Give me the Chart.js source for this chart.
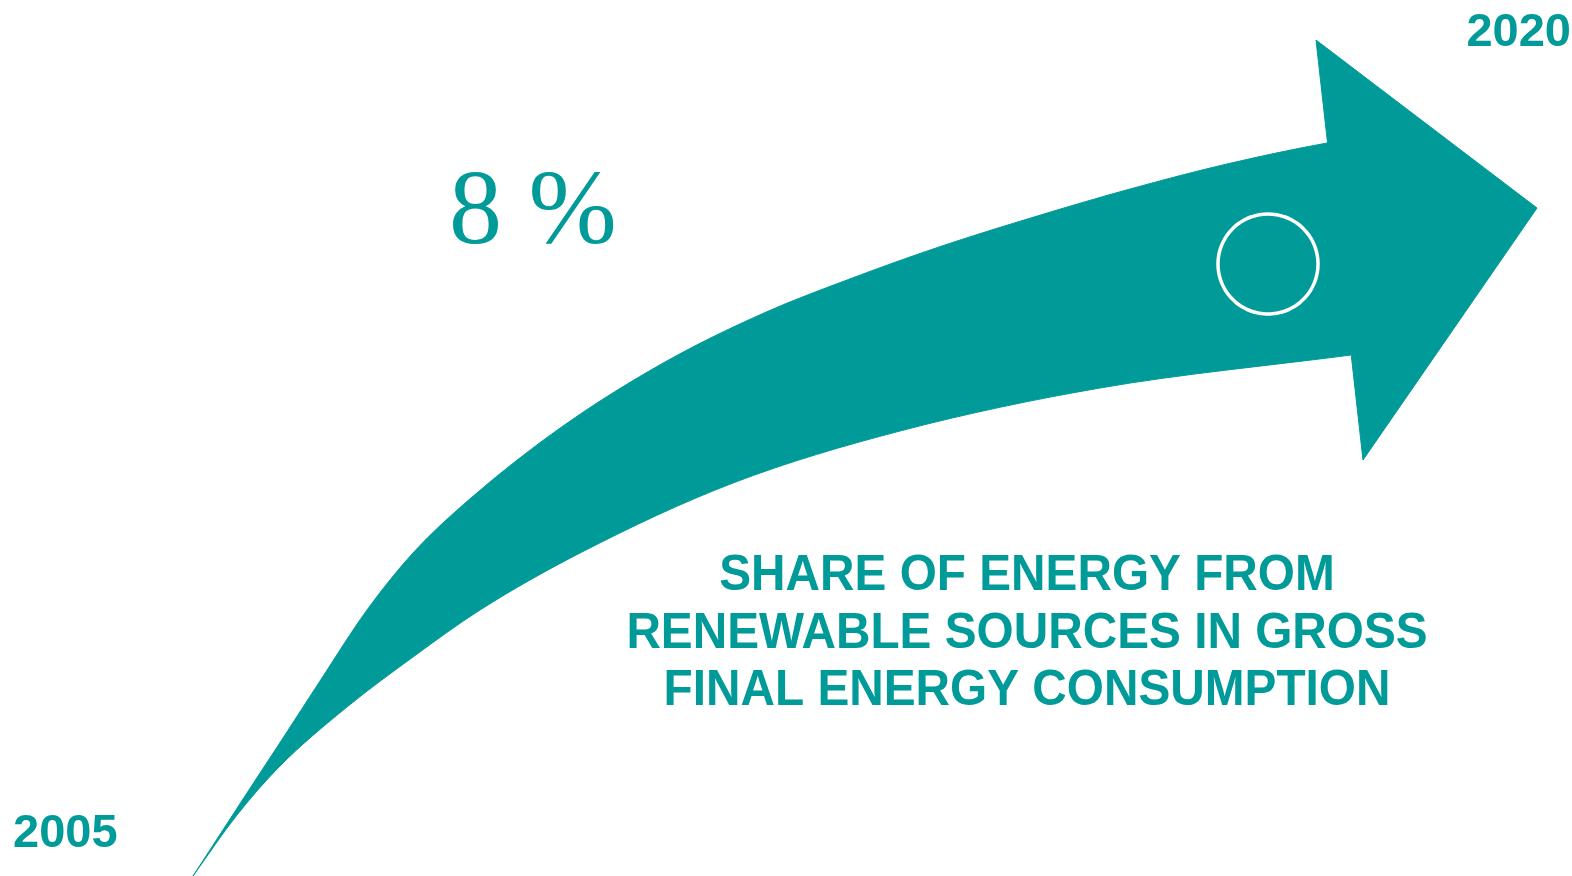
<!DOCTYPE html>
<html>
<head>
<meta charset="utf-8">
<script src="https://cdn.jsdelivr.net/npm/chart.js@4.4.1/dist/chart.umd.min.js"></script>
<style>
  html, body { margin: 0; padding: 0; background: #ffffff; }
  #wrap { width: 1572px; height: 876px; }
</style>
</head>
<body>
<div id="wrap"><canvas id="c" width="1572" height="876"></canvas></div>
<script>
// ---- content ----
const years = ['2005', '2020'];
const shareValue = '8 %';
const titleLines = [
  'SHARE OF ENERGY FROM',
  'RENEWABLE SOURCES IN GROSS',
  'FINAL ENERGY CONSUMPTION'
];
// arrow body, upper edge (tail tip -> head; last point lies under the head)
const upperEdge = [
  [193, 876], [245, 796], [283, 738], [320, 681], [367, 610], [413, 553],
  [471, 498], [563, 426], [665, 362], [764, 313], [847, 280], [939, 247],
  [1034, 217], [1130, 189], [1227, 164], [1327, 143], [1365, 137]
];
// arrow body, lower edge (tail tip -> head notch)
const lowerEdge = [
  [193, 876], [237, 815], [280, 766], [347, 707], [413, 657], [480, 610],
  [580, 553], [733, 483], [900, 431], [1100, 388], [1351, 355]
];
// arrow head triangle
const arrowHead = [[1316, 40], [1537, 208], [1363, 460]];
// white ring marker on the arrow
const marker = [[1268, 264]];

// ---- build chart data ----
const TEAL = '#009a98';
const toPts = a => a.map(p => ({ x: p[0], y: p[1] }));
const headPts = toPts(arrowHead.concat([arrowHead[0]]));

// ring glyph used as the marker's point style
function makeRing(r, lw) {
  const size = Math.ceil(2 * r + lw + 4);
  const cv = document.createElement('canvas');
  cv.width = size; cv.height = size;
  const g = cv.getContext('2d');
  g.strokeStyle = '#ffffff';
  g.lineWidth = lw;
  g.beginPath();
  const step = Math.PI / 36;
  for (let a = 0; a < Math.PI * 2 - 1e-6; a += step) {
    g.arc(size / 2, size / 2, r, a, a + step);
  }
  g.closePath();
  g.stroke();
  return cv;
}
const ringStyle = makeRing(50, 3.5);

const textPlugin = {
  id: 'infoText',
  afterDatasetsDraw(chart) {
    const { ctx, scales: { x, y } } = chart;
    ctx.save();
    ctx.fillStyle = TEAL;
    ctx.textBaseline = 'alphabetic';

    // big percentage
    ctx.font = "106px 'Liberation Serif', 'Times New Roman', serif";
    ctx.textAlign = 'left';
    ctx.fillText(shareValue, x.getPixelForValue(449), y.getPixelForValue(243));

    // years
    ctx.font = "bold 47px 'Liberation Sans', Arial, sans-serif";
    ctx.textAlign = 'left';
    ctx.fillText(years[0], x.getPixelForValue(13), y.getPixelForValue(847));
    ctx.textAlign = 'right';
    ctx.fillText(years[1], x.getPixelForValue(1571), y.getPixelForValue(46));

    // caption
    ctx.font = "bold 50px 'Liberation Sans', Arial, sans-serif";
    ctx.textAlign = 'center';
    const baselines = [590, 648, 705];
    titleLines.forEach((t, i) => {
      ctx.save();
      ctx.translate(x.getPixelForValue(1027), y.getPixelForValue(baselines[i]));
      ctx.scale(0.955, 1);
      ctx.fillText(t, 0, 0);
      ctx.restore();
    });
    ctx.restore();
  }
};

new Chart(document.getElementById('c'), {
  type: 'scatter',
  data: {
    datasets: [
      {
        label: 'upper edge',
        data: toPts(upperEdge),
        showLine: true,
        fill: false,
        cubicInterpolationMode: 'monotone',
        borderColor: TEAL,
        borderWidth: 1,
        pointRadius: 0,
        order: 3
      },
      {
        label: 'lower edge',
        data: toPts(lowerEdge),
        showLine: true,
        fill: { target: 0 },
        cubicInterpolationMode: 'monotone',
        backgroundColor: TEAL,
        borderColor: TEAL,
        borderWidth: 1,
        pointRadius: 0,
        order: 3
      },
      {
        label: 'head',
        data: headPts,
        showLine: true,
        fill: 'shape',
        tension: 0,
        backgroundColor: TEAL,
        borderColor: TEAL,
        borderWidth: 1,
        pointRadius: 0,
        order: 2
      },
      {
        label: 'marker',
        data: toPts(marker),
        pointStyle: ringStyle,
        pointRadius: 50,
        showLine: false,
        clip: false,
        order: 0
      }
    ]
  },
  options: {
    responsive: false,
    animation: false,
    devicePixelRatio: 1,
    layout: { padding: 0, autoPadding: false },
    plugins: { legend: { display: false }, tooltip: { enabled: false }, title: { display: false } },
    events: [],
    scales: {
      x: { type: 'linear', min: 0, max: 1572, display: false },
      y: { type: 'linear', min: 0, max: 876, reverse: true, display: false }
    }
  },
  plugins: [textPlugin]
});
</script>
</body>
</html>
